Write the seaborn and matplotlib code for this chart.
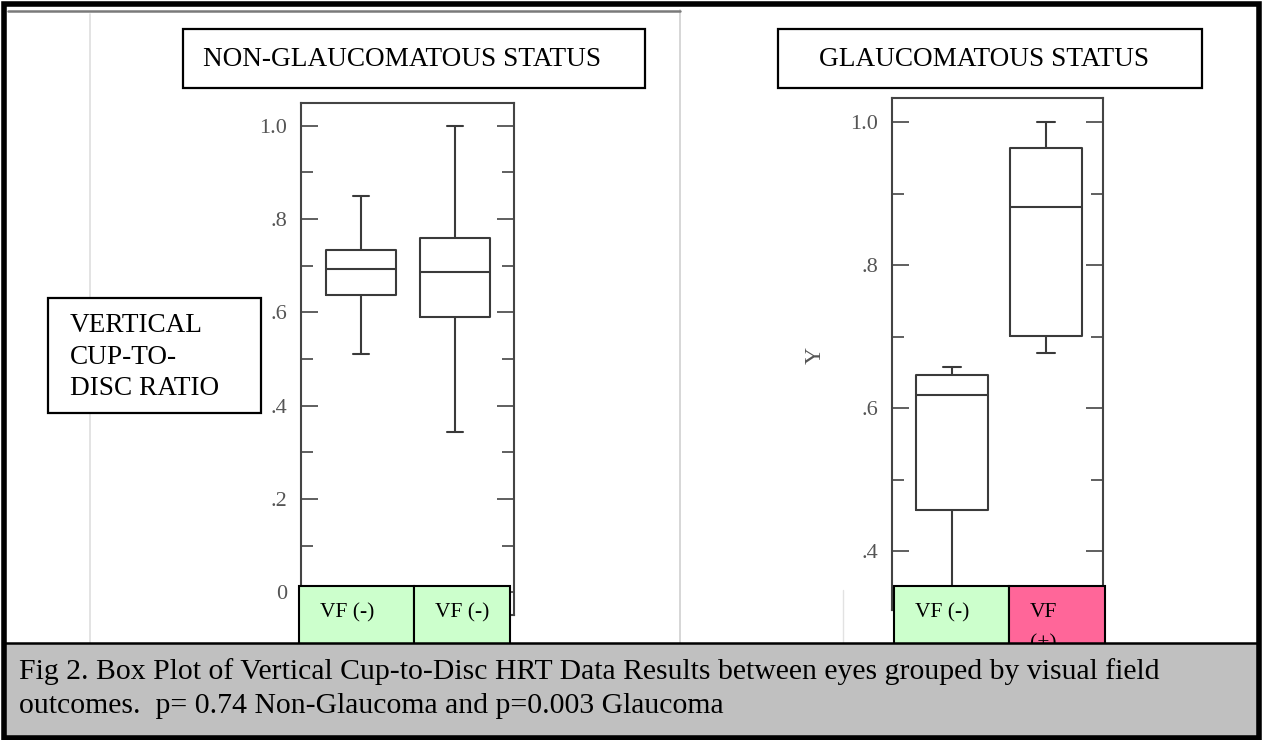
import numpy as np
import pandas as pd
import matplotlib
matplotlib.use("Agg")
import matplotlib.pyplot as plt
import seaborn as sns
from matplotlib.patches import Rectangle
from matplotlib.lines import Line2D
from matplotlib.ticker import MultipleLocator

# ---------------- data (five-number summaries) ----------------
# values: lower whisker, Q1, median, Q3, upper whisker
non_glaucoma_ids = ["NG-1", "NG-2"]
non_glaucoma_labels = ["VF (-)", "VF (-)"]
non_glaucoma_eye1 = [0.511, 0.637, 0.693, 0.734, 0.850]
non_glaucoma_eye2 = [0.343, 0.590, 0.687, 0.760, 1.000]

glaucoma_ids = ["G-1", "G-2"]
glaucoma_labels = ["VF (-)", "VF\n(+)"]
glaucoma_vf_neg = [0.300, 0.457, 0.618, 0.646, 0.657]
glaucoma_vf_pos = [0.677, 0.701, 0.881, 0.964, 1.000]

left_ticks = [0.0, 0.2, 0.4, 0.6, 0.8, 1.0]
left_ticklabels = ["0", ".2", ".4", ".6", ".8", "1.0"]
right_ticks = [0.4, 0.6, 0.8, 1.0]
right_ticklabels = [".4", ".6", ".8", "1.0"]

title_left = "NON-GLAUCOMATOUS STATUS"
title_right = "GLAUCOMATOUS STATUS"
ylabel_lines = ["VERTICAL", "CUP-TO-", "DISC RATIO"]
caption_lines = [
    "Fig 2. Box Plot of Vertical Cup-to-Disc HRT Data Results between eyes grouped by visual field",
    "outcomes.  p= 0.74 Non-Glaucoma and p=0.003 Glaucoma",
]

df_left = pd.DataFrame({
    "group": [non_glaucoma_ids[0]] * len(non_glaucoma_eye1) + [non_glaucoma_ids[1]] * len(non_glaucoma_eye2),
    "value": non_glaucoma_eye1 + non_glaucoma_eye2,
})
df_right = pd.DataFrame({
    "group": [glaucoma_ids[0]] * len(glaucoma_vf_neg) + [glaucoma_ids[1]] * len(glaucoma_vf_pos),
    "value": glaucoma_vf_neg + glaucoma_vf_pos,
})

# ---------------- style ----------------
sns.set_style("white")
plt.rcParams["font.family"] = ["Liberation Serif", "DejaVu Serif"]

W, H = 1262, 740
fig = plt.figure(figsize=(W / 100, H / 100), dpi=100)
fig.patch.set_facecolor("white")


def fx(x):
    return x / W


def fy(y):
    return 1 - y / H


def add_axes_px(x0, y0, x1, y1):
    return fig.add_axes([fx(x0), fy(y1), (x1 - x0) / W, (y1 - y0) / H])


def rect_px(x0, y0, x1, y1, **kw):
    r = Rectangle((fx(x0), fy(y1)), (x1 - x0) / W, (y1 - y0) / H,
                  transform=fig.transFigure, **kw)
    fig.add_artist(r)
    return r


def line_px(xs, ys, **kw):
    l = Line2D([fx(x) for x in xs], [fy(y) for y in ys], transform=fig.transFigure, **kw)
    fig.add_artist(l)
    return l


BOXC = "#3a3a3a"
SPINEC = "#444444"
TICKLBL = "#555555"


def style_axis(ax, ticks, ticklabels, ylim, xlim):
    ax.set_xlim(*xlim)
    ax.set_ylim(*ylim)
    ax.set_xticks([])
    ax.set_xlabel("")
    ax.set_ylabel("")
    ax.set_yticks(ticks)
    ax.set_yticklabels(ticklabels)
    ax.yaxis.set_minor_locator(MultipleLocator(0.1))
    ax.tick_params(axis="y", which="both", direction="in", left=True, right=True,
                   color=SPINEC, width=1.2, labelcolor=TICKLBL, labelsize=16)
    ax.tick_params(axis="y", which="major", length=12, pad=10)
    ax.tick_params(axis="y", which="minor", length=8.6)
    for s in ax.spines.values():
        s.set_visible(True)
        s.set_color(SPINEC)
        s.set_linewidth(1.5)
    ax.set_facecolor("none")


# faint scan artifacts (behind everything)
line_px([90, 90], [14, 643], color="#dedede", lw=1.2, zorder=0.5)
line_px([680, 680], [10, 643], color="#cfcfcf", lw=1.2, zorder=0.5)
line_px([843, 843], [590, 643], color="#e2e2e2", lw=1.0, zorder=0.5)
line_px([8, 680], [11, 11], color="#7a7a7a", lw=1.8, zorder=0.5)

# ---------------- left panel ----------------
axL = add_axes_px(301, 103, 514, 615)
sns.boxplot(data=df_left, x="group", y="value", order=non_glaucoma_ids, ax=axL,
            fill=False, color=BOXC, linewidth=1.5, width=0.75, whis=(0, 100),
            showfliers=False, capwidths=0.17)
style_axis(axL, left_ticks, left_ticklabels, (-0.049, 1.049), (-0.638, 1.628))

# ---------------- right panel ----------------
axR = add_axes_px(892, 98, 1103, 610)
sns.boxplot(data=df_right, x="group", y="value", order=glaucoma_ids, ax=axR,
            fill=False, color=BOXC, linewidth=1.5, width=0.76, whis=(0, 100),
            showfliers=False, capwidths=0.19)
style_axis(axR, right_ticks, right_ticklabels, (0.3175, 1.0336), (-0.638, 1.606))
fig.text(fx(815), fy(355), "Y", rotation=90, ha="center", va="center",
         color=TICKLBL, fontsize=17)

# ---------------- title boxes ----------------
rect_px(183, 29, 645, 88, facecolor="white", edgecolor="black", lw=1.6, zorder=5)
fig.text(fx(203), fy(59), title_left, ha="left", va="center", fontsize=19.6,
         color="black", zorder=6)
rect_px(778, 29, 1202, 88, facecolor="white", edgecolor="black", lw=1.6, zorder=5)
fig.text(fx(819), fy(59), title_right, ha="left", va="center", fontsize=19.6,
         color="black", zorder=6)

# y-axis description box
rect_px(48, 298, 261, 413, facecolor="white", edgecolor="black", lw=1.6, zorder=5)
for yy, txt in zip([326, 358, 389], ylabel_lines):
    fig.text(fx(70), fy(yy), txt, ha="left", va="center", fontsize=19.6,
             color="black", zorder=6)

# ---------------- group label boxes ----------------
GREEN = "#ccffcc"
PINK = "#ff6699"
label_boxes = [
    (299, 414, GREEN, non_glaucoma_labels[0]),
    (414, 510, GREEN, non_glaucoma_labels[1]),
    (894, 1009, GREEN, glaucoma_labels[0]),
    (1009, 1105, PINK, glaucoma_labels[1]),
]
for x0, x1, col, txt in label_boxes:
    rect_px(x0, 586, x1, 646, facecolor=col, edgecolor="black", lw=1.5, zorder=5)
    for i, part in enumerate(txt.split("\n")):
        fig.text(fx(x0 + 21), fy(617 + 31 * i), part, ha="left", va="baseline",
                 fontsize=15.5, color="black", zorder=6)

# ---------------- caption ----------------
rect_px(4, 643, 1259, 738, facecolor="#c0c0c0", edgecolor="black", lw=1.8, zorder=8)
fig.text(fx(19), fy(672), caption_lines[0], ha="left", va="center", fontsize=21.4,
         color="black", zorder=9)
fig.text(fx(19), fy(706), caption_lines[1], ha="left", va="center", fontsize=21.4,
         color="black", zorder=9)

# outer frame
rect_px(4, 4, 1259, 738, facecolor="none", edgecolor="black", lw=4.0, zorder=10)

fig.savefig("out.png", dpi=100)
